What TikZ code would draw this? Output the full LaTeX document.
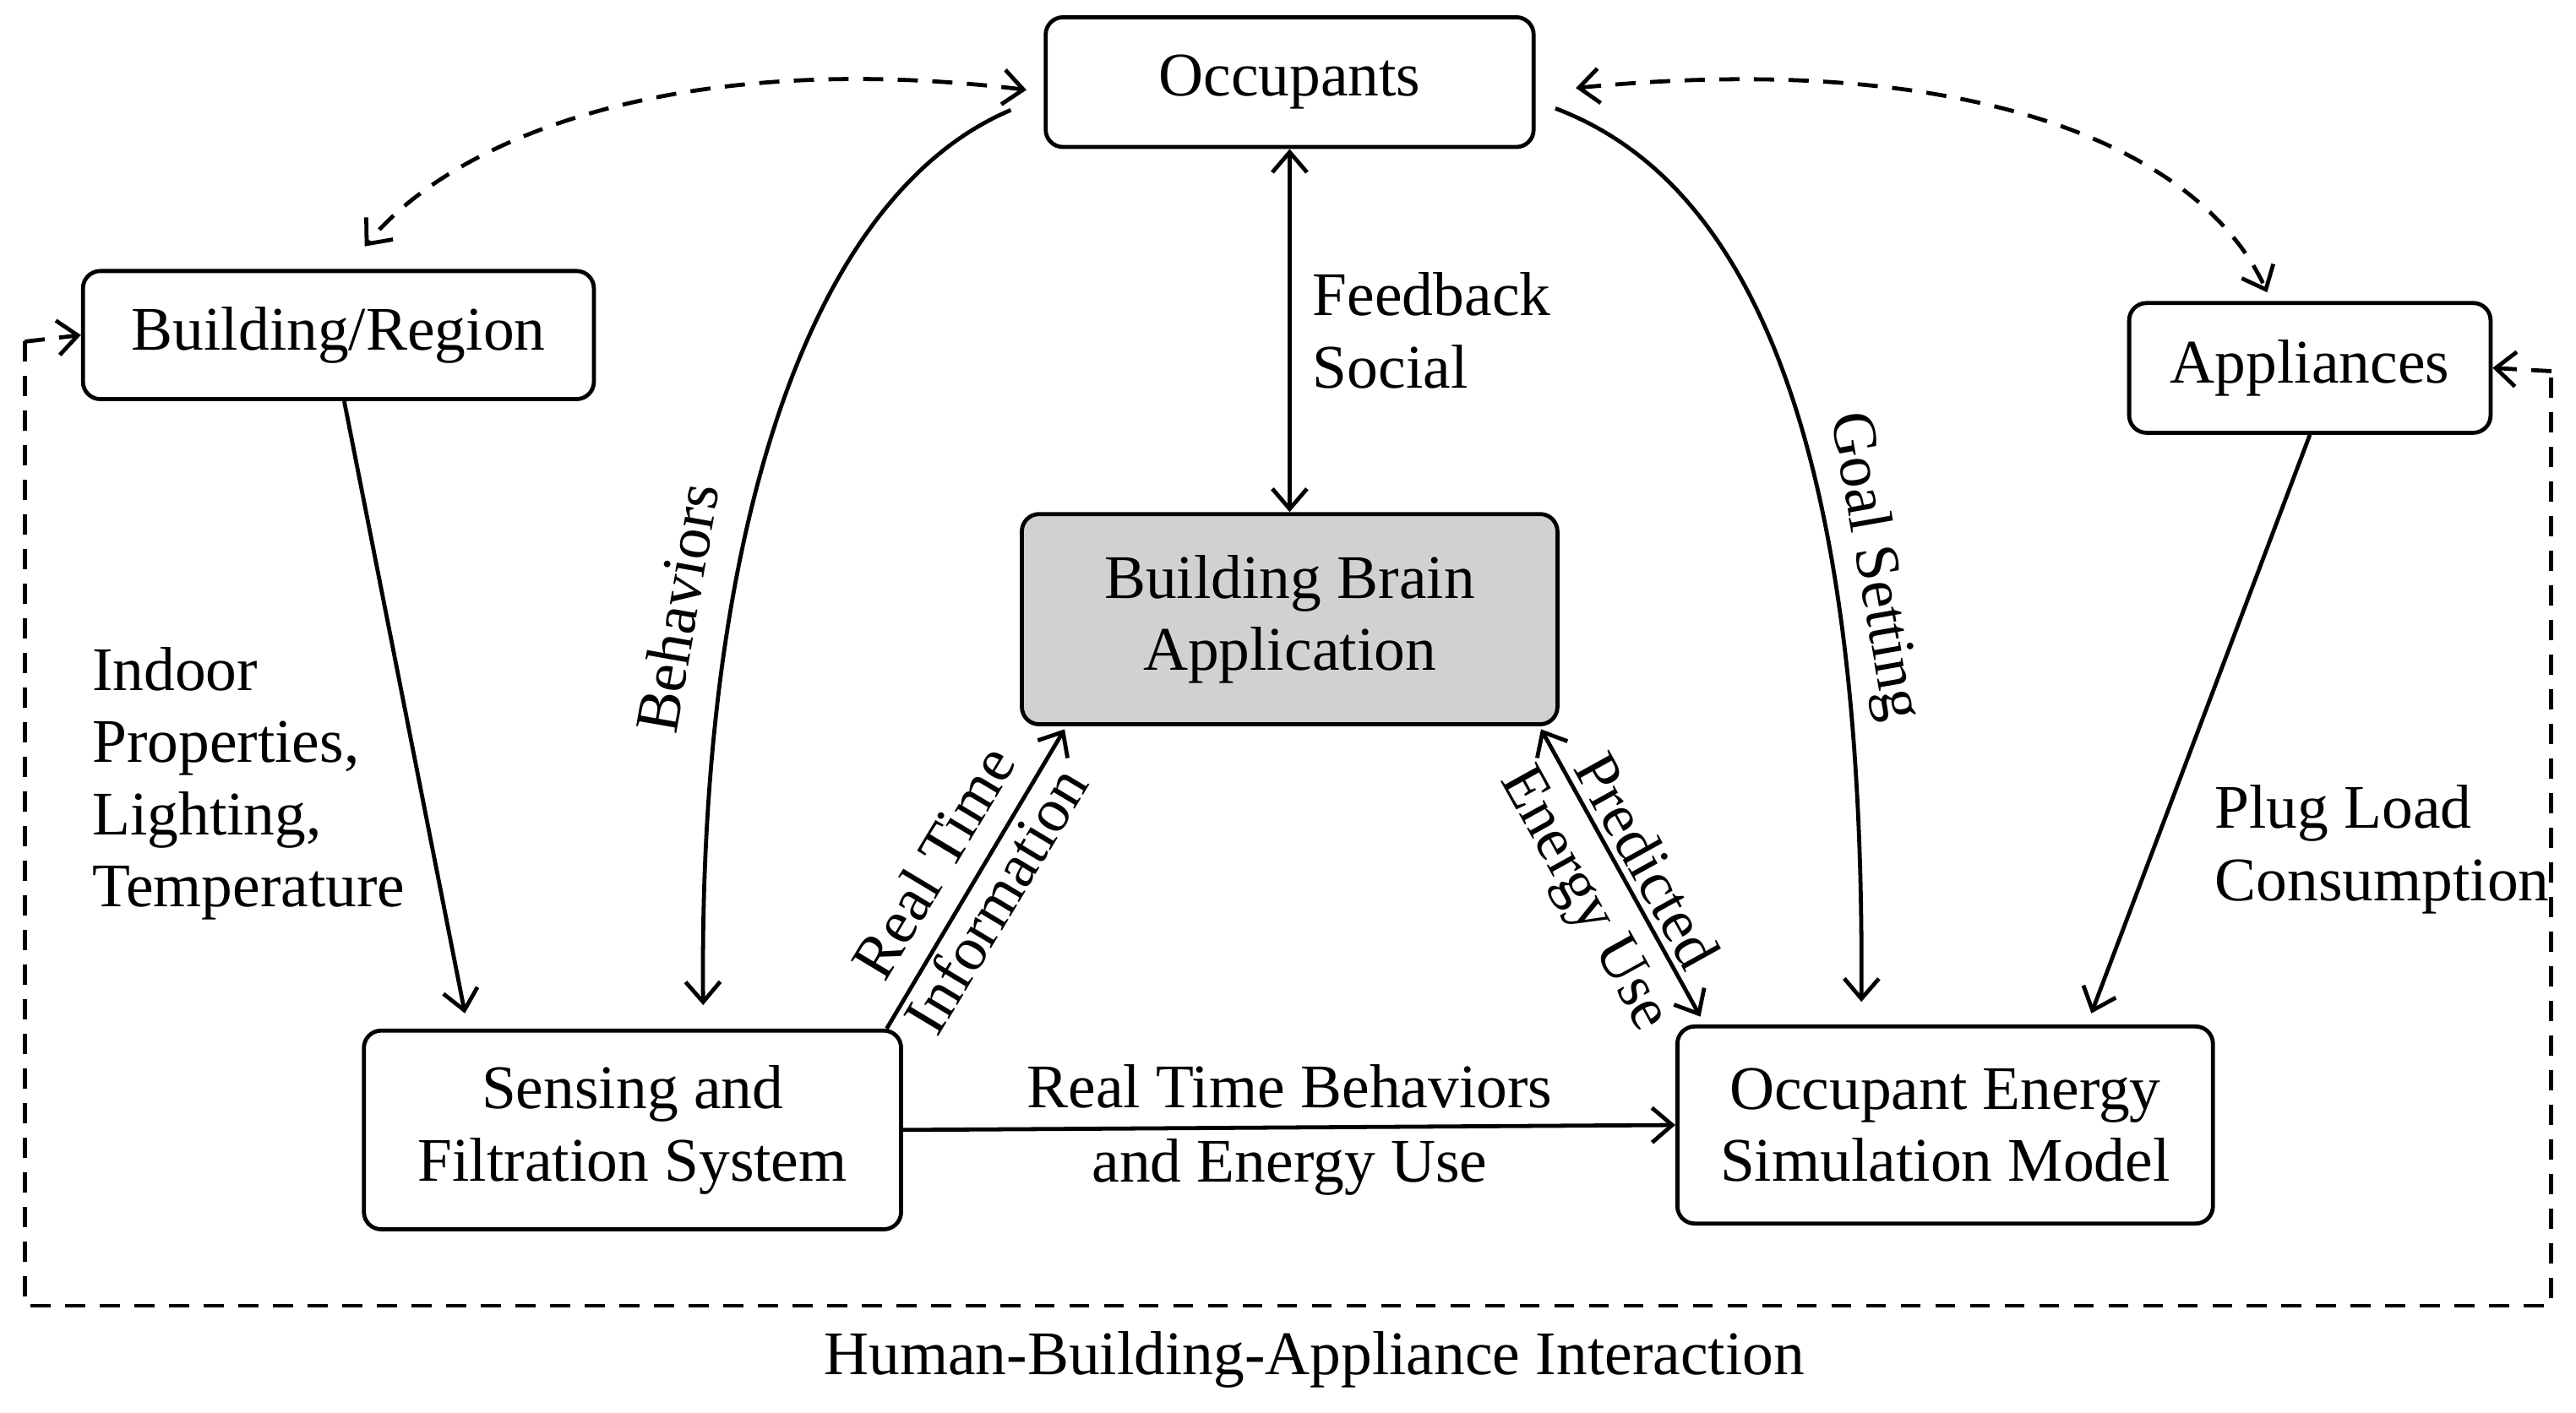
\documentclass[tikz,border=0pt]{standalone}
\usepackage{fontspec}
\setmainfont{Liberation Serif}
\usetikzlibrary{arrows.meta}
\tikzset{box/.style={draw, line width=1.4pt, rounded corners=6pt, align=center, font=\fontsize{21.5}{25}\selectfont}}
\tikzset{lbl/.style={align=left, font=\fontsize{21.5}{25}\selectfont}}
\tikzset{link/.style={line width=1.4pt, -{Straight Barb[length=7pt,width=12pt]}}}
\tikzset{both/.style={line width=1.4pt, {Straight Barb[length=7pt,width=12pt]}-{Straight Barb[length=7pt,width=12pt]}}}
\tikzset{loose/.style={line width=1.4pt, dash pattern=on 7pt off 5pt}}
\begin{document}
\begin{tikzpicture}[x=0.02cm, y=-0.02cm]
      \useasboundingbox (0,0) rectangle (1568,860);
      % Boxes
      \node[box, minimum width=297*0.02cm, minimum height=79*0.02cm] (occ) at (785,50) {Occupants};
      \node[box, minimum width=311*0.02cm, minimum height=78*0.02cm] (bldg) at (206,204) {Building/Region};
      \node[box, minimum width=220*0.02cm, minimum height=79*0.02cm] (appl) at (1406,224) {Appliances};
      \node[box, fill=black!18, minimum width=326*0.02cm, minimum height=128*0.02cm] (brain) at (785,377) {Building Brain\\Application};
      \node[box, minimum width=327*0.02cm, minimum height=121*0.02cm] (sense) at (385,688) {Sensing and\\Filtration System};
      \node[box, minimum width=326*0.02cm, minimum height=120*0.02cm] (sim) at (1184,685) {Occupant Energy\\Simulation Model};
      \coordinate (lcorner) at (15,208);
      \coordinate (rcorner) at (1553,226);

      % Outer loop
      \draw[loose, link] (lcorner) -- (bldg.west);
      \draw[loose] (lcorner) -- (15,795) -- (1553,795) -- (rcorner);
      \draw[loose, link] (rcorner) -- (appl.east);
      \node[lbl] (hba) at (800,828) {Human-Building-Appliance Interaction};

      % Dashed links from occupants
      \draw[loose, both, shorten <=6pt] ([yshift=-0.12cm]occ.west) .. controls (420,30) and (280,80) .. (222,150);
      \draw[loose, both, shorten <=14pt] ([yshift=-0.12cm]occ.east) .. controls (1200,30) and (1340,90) .. (1380,178);

      % Solid links
      \draw[both] (occ.south) -- (brain.north)
        node[lbl, pos=0.5, right=4pt] {Feedback\\Social};
      \draw[link] ([xshift=-0.4cm,yshift=-0.34cm]occ.west) .. controls (490,120) and (425,330) .. (428,612);
      \node[lbl, rotate=80] (behav) at (412,370) {Behaviors};
      \draw[link] ([xshift=0.24cm,yshift=-0.32cm]occ.east) .. controls (1090,120) and (1135,330) .. (1133,610);
      \node[lbl, rotate=-80] (goal) at (1140,345) {Goal Setting};
      \draw[link] ([xshift=2pt]bldg.south) -- (283,617);
      \node[lbl, anchor=north west] (indoor) at (50,388) {Indoor\\Properties,\\Lighting,\\Temperature};
      \draw[link] (appl.south) -- (1273,617);
      \node[lbl, anchor=north west] (plug) at (1342,472) {Plug Load\\Consumption};
      \draw[link] (sense.east) -- (sim.west);
      \node[lbl, align=center] (rtb) at (785,688) {Real Time Behaviors\\[1pt]and Energy Use};
      \draw[link] ([xshift=-0.2cm]sense.north east) -- (648,444);
      \node[lbl, rotate=59] (rt) at (568,525) {Real Time};
      \node[lbl, rotate=59] (info) at (606,548) {Information};
      \draw[both] (938,444) -- (1035,619);
      \node[lbl, rotate=-61] (pred) at (1003,524) {Predicted};
      \node[lbl, rotate=-61] (euse) at (963,548) {Energy Use};
\end{tikzpicture}
\end{document}
